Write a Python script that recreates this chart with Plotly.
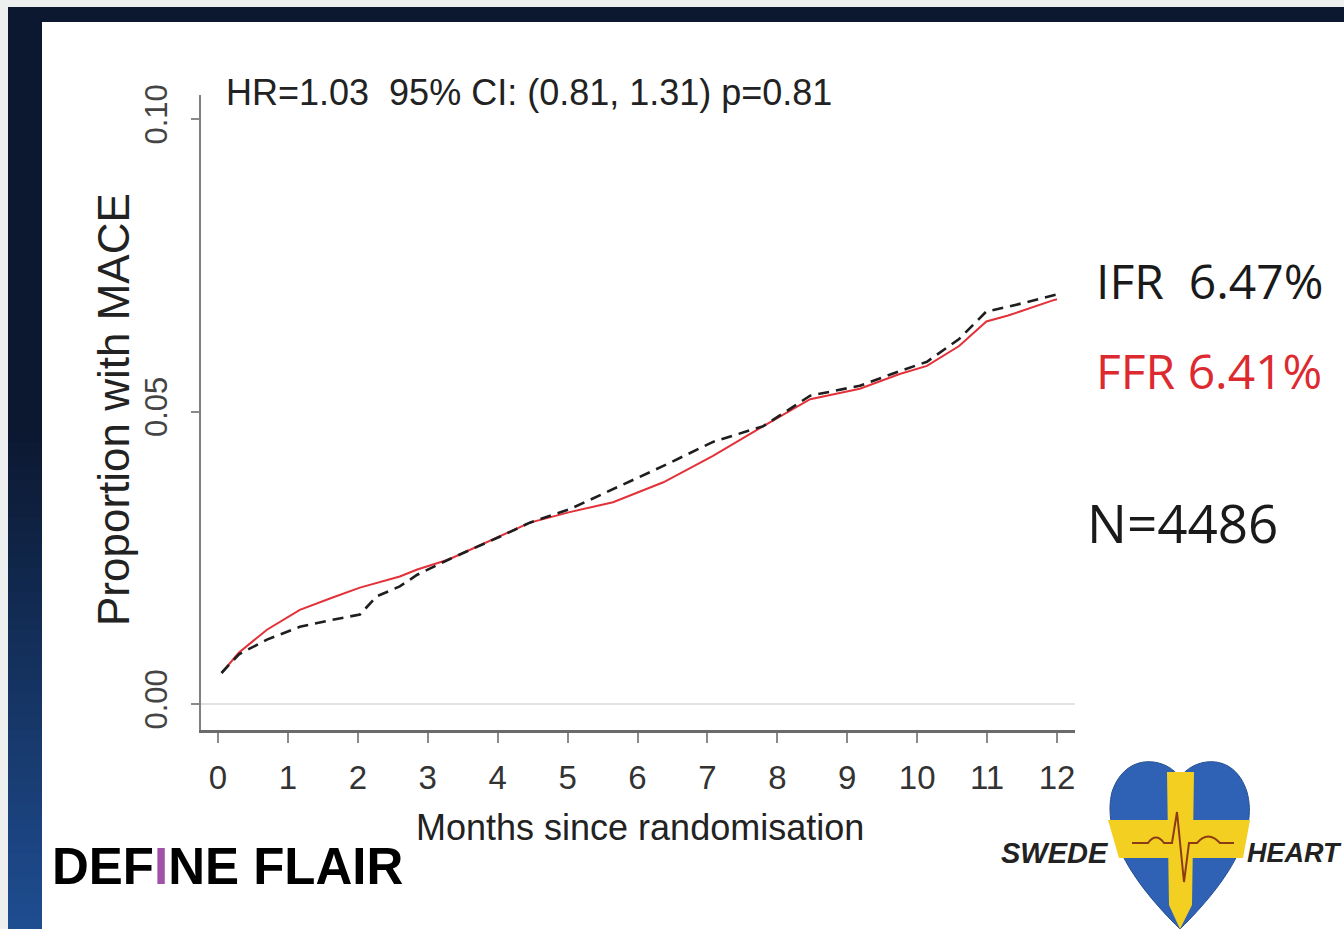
import plotly.graph_objects as go

# ---------------- data ----------------
months_ffr = [0.05, 0.3, 0.7, 1.17, 1.64, 2.03, 2.6, 2.85, 3.3, 4.03, 4.46, 5.03,
              5.65, 6.37, 7.08, 7.8, 8.47, 9.18, 9.75, 10.14, 10.6, 10.99, 11.3, 11.94, 12.0]
ffr = [0.0053, 0.0088, 0.0127, 0.0161, 0.0182, 0.0199, 0.0218, 0.0230, 0.0247, 0.0286,
       0.0310, 0.0328, 0.0345, 0.0379, 0.0424, 0.0475, 0.0521, 0.0539, 0.0564, 0.0578,
       0.0612, 0.0654, 0.0664, 0.0690, 0.0692]

months_ifr = [0.05, 0.3, 0.7, 1.17, 1.64, 2.03, 2.27, 2.6, 2.85, 3.3, 4.03, 4.46, 5.03,
              5.65, 6.37, 7.08, 7.8, 8.47, 9.18, 9.75, 10.14, 10.6, 10.99, 11.3, 11.94, 12.0]
ifr = [0.0053, 0.0085, 0.0110, 0.0132, 0.0144, 0.0153, 0.0184, 0.0201, 0.0221, 0.0247,
       0.0286, 0.0310, 0.0333, 0.0367, 0.0407, 0.0448, 0.0475, 0.0527, 0.0544, 0.0569,
       0.0585, 0.0624, 0.0671, 0.0679, 0.0698, 0.0700]

x_ticks = list(range(0, 13))
y_ticks = [0.0, 0.05, 0.10]
y_tick_labels = ["0.00", "0.05", "0.10"]

hr_text = "HR=1.03  95% CI: (0.81, 1.31) p=0.81"
ifr_label = "IFR  6.47%"
ffr_label = "FFR 6.41%"
n_label = "N=4486"

# ---------------- page geometry helpers ----------------
W, H = 1344, 929
def px(x):
    return x / W
def py(y):
    return 1 - y / H

SANS = "Liberation Sans, Arial, sans-serif"
CAL = "Open Sans, Noto Sans, sans-serif"

fig = go.Figure()
fig.add_trace(go.Scatter(x=months_ffr, y=ffr, mode="lines", name="FFR",
                         line=dict(color="#e3313a", width=2), showlegend=False))
fig.add_trace(go.Scatter(x=months_ifr, y=ifr, mode="lines", name="IFR",
                         line=dict(color="#1e1e1e", width=2.6, dash="11px,7px"),
                         showlegend=False))

shapes = []
# outer light strip + navy frame
shapes.append(dict(type="rect", xref="paper", yref="paper", x0=0, x1=1, y0=py(7), y1=1,
                   fillcolor="#eef0ef", line_width=0, layer="below"))
shapes.append(dict(type="rect", xref="paper", yref="paper", x0=0, x1=px(8), y0=0, y1=1,
                   fillcolor="#eef0ef", line_width=0, layer="below"))
shapes.append(dict(type="rect", xref="paper", yref="paper", x0=px(8), x1=1, y0=py(22), y1=py(7),
                   fillcolor="#0c1830", line_width=0, layer="below"))
# left band: navy, then gradient to blue toward the bottom (each step runs to the bottom)
g_start = 430
shapes.append(dict(type="rect", xref="paper", yref="paper", x0=px(8), x1=px(42),
                   y0=0, y1=py(7), fillcolor="#0c1830", line_width=0, layer="below"))
n_steps = 40
c0 = (12, 24, 48)
c1 = (31, 78, 146)
for i in range(n_steps):
    t = (i + 0.5) / n_steps
    col = "rgb(%d,%d,%d)" % tuple(int(c0[k] + (c1[k] - c0[k]) * t) for k in range(3))
    ya = g_start + (H - g_start) * i / n_steps
    shapes.append(dict(type="rect", xref="paper", yref="paper", x0=px(8), x1=px(42),
                       y0=0, y1=py(ya), fillcolor=col, line_width=0, layer="below"))

def path(cmds):
    out = []
    for c in cmds:
        if isinstance(c, str):
            out.append(c)
        else:
            out.append("%.5f,%.5f" % (px(c[0]), py(c[1])))
    return " ".join(out)

heart = path(["M", (1180, 778), "C", (1168, 758), (1126, 750), (1112, 792),
              "C", (1102, 832), (1130, 880), (1180, 929),
              "C", (1230, 880), (1258, 832), (1247, 792),
              "C", (1234, 750), (1192, 758), (1180, 778), "Z"])
shapes.append(dict(type="path", xref="paper", yref="paper", path=heart,
                   fillcolor="#2f62b5", line=dict(color="#24508f", width=1)))
hband = path(["M", (1108, 820), "L", (1250, 820), "L", (1243, 858), "L", (1119, 858), "Z"])
shapes.append(dict(type="path", xref="paper", yref="paper", path=hband,
                   fillcolor="#f3cf22", line_width=0))
vband = path(["M", (1167, 772), "L", (1194, 772), "L", (1192, 905), "L", (1180, 929),
              "L", (1169, 905), "Z"])
shapes.append(dict(type="path", xref="paper", yref="paper", path=vband,
                   fillcolor="#f3cf22", line_width=0))
ecg = path(["M", (1132, 843), "L", (1148, 843), "Q", (1156, 832), (1164, 843),
            "L", (1172, 843), "L", (1177, 812), "L", (1184, 882), "L", (1189, 843),
            "L", (1197, 843), "Q", (1208, 830), (1220, 843), "L", (1234, 843)])
shapes.append(dict(type="path", xref="paper", yref="paper", path=ecg,
                   line=dict(color="#8c3b12", width=2)))

annotations = [
    dict(text=hr_text, x=px(224), y=py(92), xref="paper", yref="paper", xanchor="left",
         yanchor="middle", showarrow=False, font=dict(family=SANS, size=36, color="#222")),
    dict(text="Proportion with MACE", x=px(113), y=py(410), xref="paper", yref="paper",
         textangle=-90, showarrow=False, xanchor="center", yanchor="middle",
         font=dict(family=SANS, size=44, color="#222")),
    dict(text="Months since randomisation", x=px(640), y=py(827), xref="paper", yref="paper",
         showarrow=False, xanchor="center", yanchor="middle",
         font=dict(family=SANS, size=36, color="#222")),
    dict(text=ifr_label, x=px(1094), y=py(280), xref="paper", yref="paper", xanchor="left",
         yanchor="middle", showarrow=False, font=dict(family=CAL, size=48, color="#1a1a1a")),
    dict(text=ffr_label, x=px(1094), y=py(370), xref="paper", yref="paper", xanchor="left",
         yanchor="middle", showarrow=False, font=dict(family=CAL, size=48, color="#dd2a30")),
    dict(text=n_label, x=px(1085), y=py(522), xref="paper", yref="paper", xanchor="left",
         yanchor="middle", showarrow=False, font=dict(family=CAL, size=53, color="#1a1a1a")),
    dict(text="<b>DEF<span style='color:#a052a8'>I</span>NE FLAIR</b>", x=px(50), y=py(866),
         xref="paper", yref="paper", xanchor="left", yanchor="middle", showarrow=False,
         font=dict(family=SANS, size=51, color="#000")),
    dict(text="<b><i>SWEDE</i></b>", x=px(1111), y=py(853), xref="paper", yref="paper",
         xanchor="right", yanchor="middle", showarrow=False,
         font=dict(family=SANS, size=29, color="#222")),
    dict(text="<b><i>HEART</i></b>", x=px(1245), y=py(853), xref="paper", yref="paper",
         xanchor="left", yanchor="middle", showarrow=False,
         font=dict(family=SANS, size=27, color="#222")),
]

px_per_month = (1057 - 218) / 12.0
x_lo = -(218 - 201) / px_per_month
x_hi = 12 + (1075 - 1057) / px_per_month
val_per_px = 0.10 / (704 - 119)
y_lo = -(730 - 704) * val_per_px
y_hi = 0.10 + (119 - 95) * val_per_px

fig.update_layout(
    width=W, height=H, margin=dict(l=0, r=0, t=0, b=0),
    paper_bgcolor="white", plot_bgcolor="white",
    shapes=shapes, annotations=annotations,
    xaxis=dict(domain=[px(201), px(1075)], range=[x_lo, x_hi], tickvals=x_ticks,
               ticktext=[str(v) for v in x_ticks], showgrid=False, zeroline=False,
               showline=True, linecolor="#6a6a6a", linewidth=3, ticks="outside",
               ticklen=10, tickwidth=2, tickcolor="#8a8a8a", automargin=False,
               tickfont=dict(family=SANS, size=33, color="#333"), ticklabelstandoff=6),
    yaxis=dict(domain=[py(730), py(95)], range=[y_lo, y_hi], tickvals=y_ticks,
               ticktext=y_tick_labels, showgrid=False, zeroline=True,
               zerolinecolor="#e2e2e2", zerolinewidth=2,
               showline=True, linecolor="#808080", linewidth=2, ticks="outside",
               ticklen=8, tickwidth=2, tickcolor="#8a8a8a", automargin=False,
               tickangle=-90, tickfont=dict(family=SANS, size=31, color="#444"),
               ticklabelstandoff=12),
)

fig.write_html("out.html")
